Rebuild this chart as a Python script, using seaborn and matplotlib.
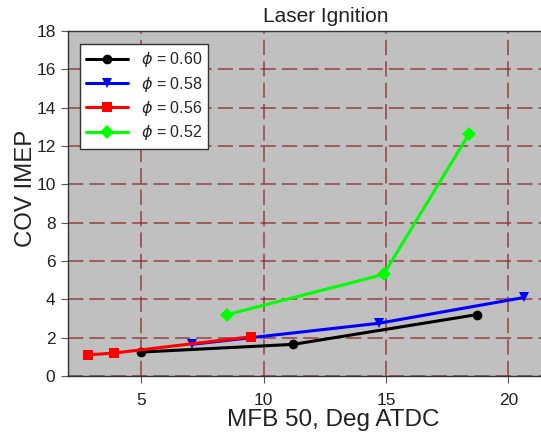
import matplotlib
matplotlib.use("Agg")
import matplotlib.pyplot as plt
import seaborn as sns
import pandas as pd

sns.set_theme(style="white")
plt.rcParams['font.family'] = ['Liberation Sans', 'DejaVu Sans']
plt.rcParams['mathtext.fontset'] = 'dejavusans'

labels = [r'$\phi$ = 0.60', r'$\phi$ = 0.58', r'$\phi$ = 0.56', r'$\phi$ = 0.52']
x_060 = [5.0, 11.2, 18.7]
y_060 = [1.25, 1.65, 3.2]
x_058 = [7.05, 14.7, 20.65]
y_058 = [1.65, 2.75, 4.1]
x_056 = [2.8, 3.9, 9.5]
y_056 = [1.1, 1.2, 2.05]
x_052 = [8.5, 14.9, 18.4]
y_052 = [3.2, 5.3, 12.65]

rows = []
for lab, xs, ys in zip(labels, [x_060, x_058, x_056, x_052], [y_060, y_058, y_056, y_052]):
    for i, (a, b) in enumerate(zip(xs, ys)):
        rows.append({'x': a, 'y': b, 'series': lab, 'order': i})
df = pd.DataFrame(rows)

colors = ['#000000', '#0000FF', '#FF0000', '#00FF00']
markers = ['o', 'v', 's', 'D']

fig = plt.figure(figsize=(5.41, 4.32), dpi=100)
ax = fig.add_axes([68/541, 1-376/432, 1.003-68/541, (376-31)/432])
ax.set_facecolor('#C0C0C0')

sns.lineplot(data=df, x='x', y='y', hue='series', style='series', hue_order=labels,
             style_order=labels, palette=colors, markers=markers, dashes=False,
             sort=False, linewidth=2.2, markersize=7, markeredgewidth=0, ax=ax, legend=True)

ax.set_xlim(2, 21.4)
ax.set_ylim(0, 18)
ax.set_xticks([5, 10, 15, 20])
ax.set_yticks(range(0, 19, 2))
ax.grid(True, color='#8B2A2A', linestyle=(0, (10, 4)), linewidth=1.1, alpha=0.85)
ax.set_axisbelow(True)
ax.spines['right'].set_visible(False)
for s in ['left', 'bottom', 'top']:
    ax.spines[s].set_color('#333333')
    ax.spines[s].set_linewidth(1.0)
ax.tick_params(axis='both', direction='out', length=5, width=0.8, color='#555555',
               labelsize=12.5, labelcolor='#222222', bottom=True, left=True, pad=4)
ax.tick_params(axis='x', pad=7)
ax.set_xlabel('MFB 50, Deg ATDC', fontsize=17.5, color='#222222')
ax.xaxis.set_label_coords(0.558, -0.095)
ax.set_ylabel('COV IMEP', fontsize=17.3, color='#222222')
ax.yaxis.set_label_coords(-0.066, 0.545)
fig.text(326/541, 1-17/432, 'Laser Ignition', ha='center', va='center', fontsize=15, color='#222222')

leg = ax.legend(loc='upper left', bbox_to_anchor=((80-68)/473, (376-44)/345), borderaxespad=0,
                fontsize=11.5, frameon=True, fancybox=False, edgecolor='#333333', framealpha=1,
                handlelength=2.6, handletextpad=0.8, borderpad=0.4, labelspacing=0.33)
leg.get_frame().set_linewidth(1.0)

fig.savefig('out.png', dpi=100)
